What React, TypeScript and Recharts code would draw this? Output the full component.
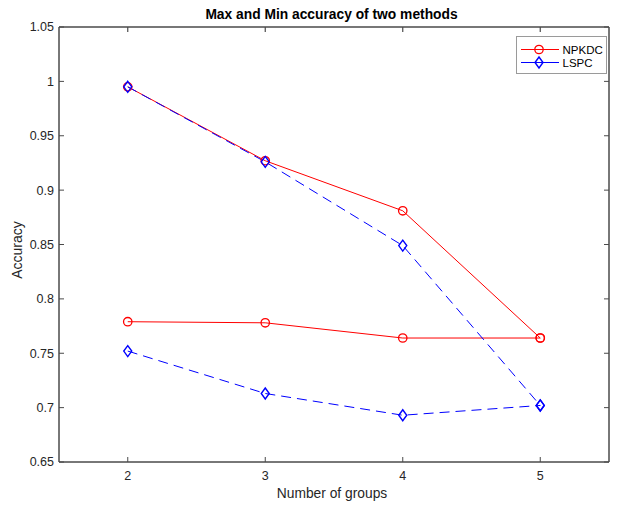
import { LineChart, Line, XAxis, YAxis, ReferenceLine, ReferenceArea } from 'recharts';

const groups = [2, 3, 4, 5];
const npkdcMax = [0.995, 0.927, 0.881, 0.764];
const npkdcMin = [0.779, 0.778, 0.764, 0.764];
const lspcMax = [0.995, 0.926, 0.849, 0.702];
const lspcMin = [0.752, 0.713, 0.693, 0.702];

const xTicks = [2, 3, 4, 5];
const yTicks = [0.65, 0.7, 0.75, 0.8, 0.85, 0.9, 0.95, 1, 1.05];

const legendNames = ['NPKDC', 'LSPC'];

const data = groups.map((g, i) => ({
  group: g,
  npkdcMax: npkdcMax[i],
  npkdcMin: npkdcMin[i],
  lspcMax: lspcMax[i],
  lspcMin: lspcMin[i],
}));

const RED = '#ff0000';
const BLUE = '#0000ff';
const AXIS = '#4a4a4a';
const TEXT = '#262626';
const FONT = '"Liberation Sans", Arial, Helvetica, sans-serif';
const W = 622;
const H = 501;
const PLOT_TOP = 19;
const PLOT_RIGHT = W - 21;

function CircleDot(props: any) {
  const { cx, cy } = props;
  if (cx == null || cy == null) return null;
  return <circle cx={cx} cy={cy} r={4.2} fill="none" stroke={RED} strokeWidth={1.3} />;
}

function DiamondDot(props: any) {
  const { cx, cy } = props;
  if (cx == null || cy == null) return null;
  const d = `M${cx},${cy - 5.5} L${cx + 4},${cy} L${cx},${cy + 5.5} L${cx - 4},${cy} Z`;
  return <path d={d} fill="none" stroke={BLUE} strokeWidth={1.4} />;
}

// bottom label + inward tick on the top edge of the box
function XTick(props: any) {
  const { x, y, payload } = props;
  return (
    <g>
      <line x1={x} x2={x} y1={PLOT_TOP} y2={PLOT_TOP + 5} stroke={AXIS} strokeWidth={1.2} />
      <text x={x} y={y} dy="0.71em" textAnchor="middle" fontSize={12.5} fontFamily={FONT} fill={TEXT}>
        {payload.value}
      </text>
    </g>
  );
}

// left label + inward tick on the right edge of the box
function YTick(props: any) {
  const { x, y, payload } = props;
  return (
    <g>
      <line x1={PLOT_RIGHT - 5} x2={PLOT_RIGHT} y1={y} y2={y} stroke={AXIS} />
      <text x={x} y={y} dy="0.355em" textAnchor="end" fontSize={12.5} fontFamily={FONT} fill={TEXT}>
        {String(Number(payload.value.toFixed(2)))}
      </text>
    </g>
  );
}

export default function App() {
  return (
    <div style={{ position: 'relative', width: W, height: H, background: '#fff', fontFamily: FONT }}>
      <LineChart width={W} height={H} data={data} margin={{ top: PLOT_TOP, right: 21, left: 0, bottom: 0 }}>
        <XAxis
          dataKey="group"
          type="number"
          domain={[1.5, 5.5]}
          ticks={xTicks}
          height={47}
          stroke={AXIS}
          tickSize={-5}
          tickMargin={14}
          tick={<XTick />}
          allowDataOverflow
        />
        <YAxis
          type="number"
          domain={[0.65, 1.05]}
          ticks={yTicks}
          width={51}
          stroke={AXIS}
          tickSize={-5}
          tickMargin={10}
          tick={<YTick />}
          allowDataOverflow
        />
        <ReferenceArea
          x1={1.5}
          x2={5.5}
          y1={0.65}
          y2={1.05}
          fill="none"
          fillOpacity={0}
          stroke={AXIS}
          strokeWidth={1}
          ifOverflow="visible"
        />
        <ReferenceLine y={1.05} stroke={AXIS} strokeWidth={1.2} ifOverflow="visible" />
        <ReferenceLine x={5.5} stroke={AXIS} strokeWidth={1} />
        <Line dataKey="npkdcMax" name="NPKDC" stroke={RED} strokeWidth={1} dot={<CircleDot />} isAnimationActive={false} />
        <Line dataKey="npkdcMin" name="NPKDC min" stroke={RED} strokeWidth={1} dot={<CircleDot />} isAnimationActive={false} />
        <Line
          dataKey="lspcMax"
          name="LSPC"
          stroke={BLUE}
          strokeWidth={1}
          strokeDasharray="10 6"
          dot={<DiamondDot />}
          isAnimationActive={false}
        />
        <Line
          dataKey="lspcMin"
          name="LSPC min"
          stroke={BLUE}
          strokeWidth={1}
          strokeDasharray="10 6"
          dot={<DiamondDot />}
          isAnimationActive={false}
        />
      </LineChart>

      <div
        style={{
          position: 'absolute', left: 123.5, top: 0, width: 400, height: 14, lineHeight: '14px',
          textAlign: 'center', fontSize: 13.8, fontWeight: 'bold', color: '#000', whiteSpace: 'nowrap',
          pointerEvents: 'none',
        }}
      >
        Max and Min accuracy of two methods
      </div>
      <div
        style={{
          position: 'absolute', left: 124, top: 478, width: 400, lineHeight: '16px',
          textAlign: 'center', fontSize: 13.8, color: TEXT, whiteSpace: 'nowrap', pointerEvents: 'none',
        }}
      >
        Number of groups
      </div>
      <div
        style={{
          position: 'absolute', left: 9 - 100, top: 241.5 - 8, width: 200, height: 16, lineHeight: '16px',
          textAlign: 'center', fontSize: 14, color: TEXT, transform: 'rotate(-90deg)', whiteSpace: 'nowrap',
          pointerEvents: 'none',
        }}
      >
        Accuracy
      </div>
      <svg width={91} height={38} style={{ position: 'absolute', left: 508, top: 28 }}>
        <rect x={0.5} y={0.5} width={90} height={37} fill="#fff" stroke="#9a9a9a" />
        {legendNames.map((name, i) => {
          const y = 13.5 + i * 13;
          const color = i === 0 ? RED : BLUE;
          return (
            <g key={name}>
              <line x1={5} x2={43} y1={y} y2={y} stroke={color} strokeWidth={1} />
              {i === 0 ? <CircleDot cx={23} cy={y} /> : <DiamondDot cx={23} cy={y} />}
              <text x={46.5} y={y + 4} fontSize={11.5} fontFamily={FONT} fill="#000">
                {name}
              </text>
            </g>
          );
        })}
      </svg>
    </div>
  );
}
